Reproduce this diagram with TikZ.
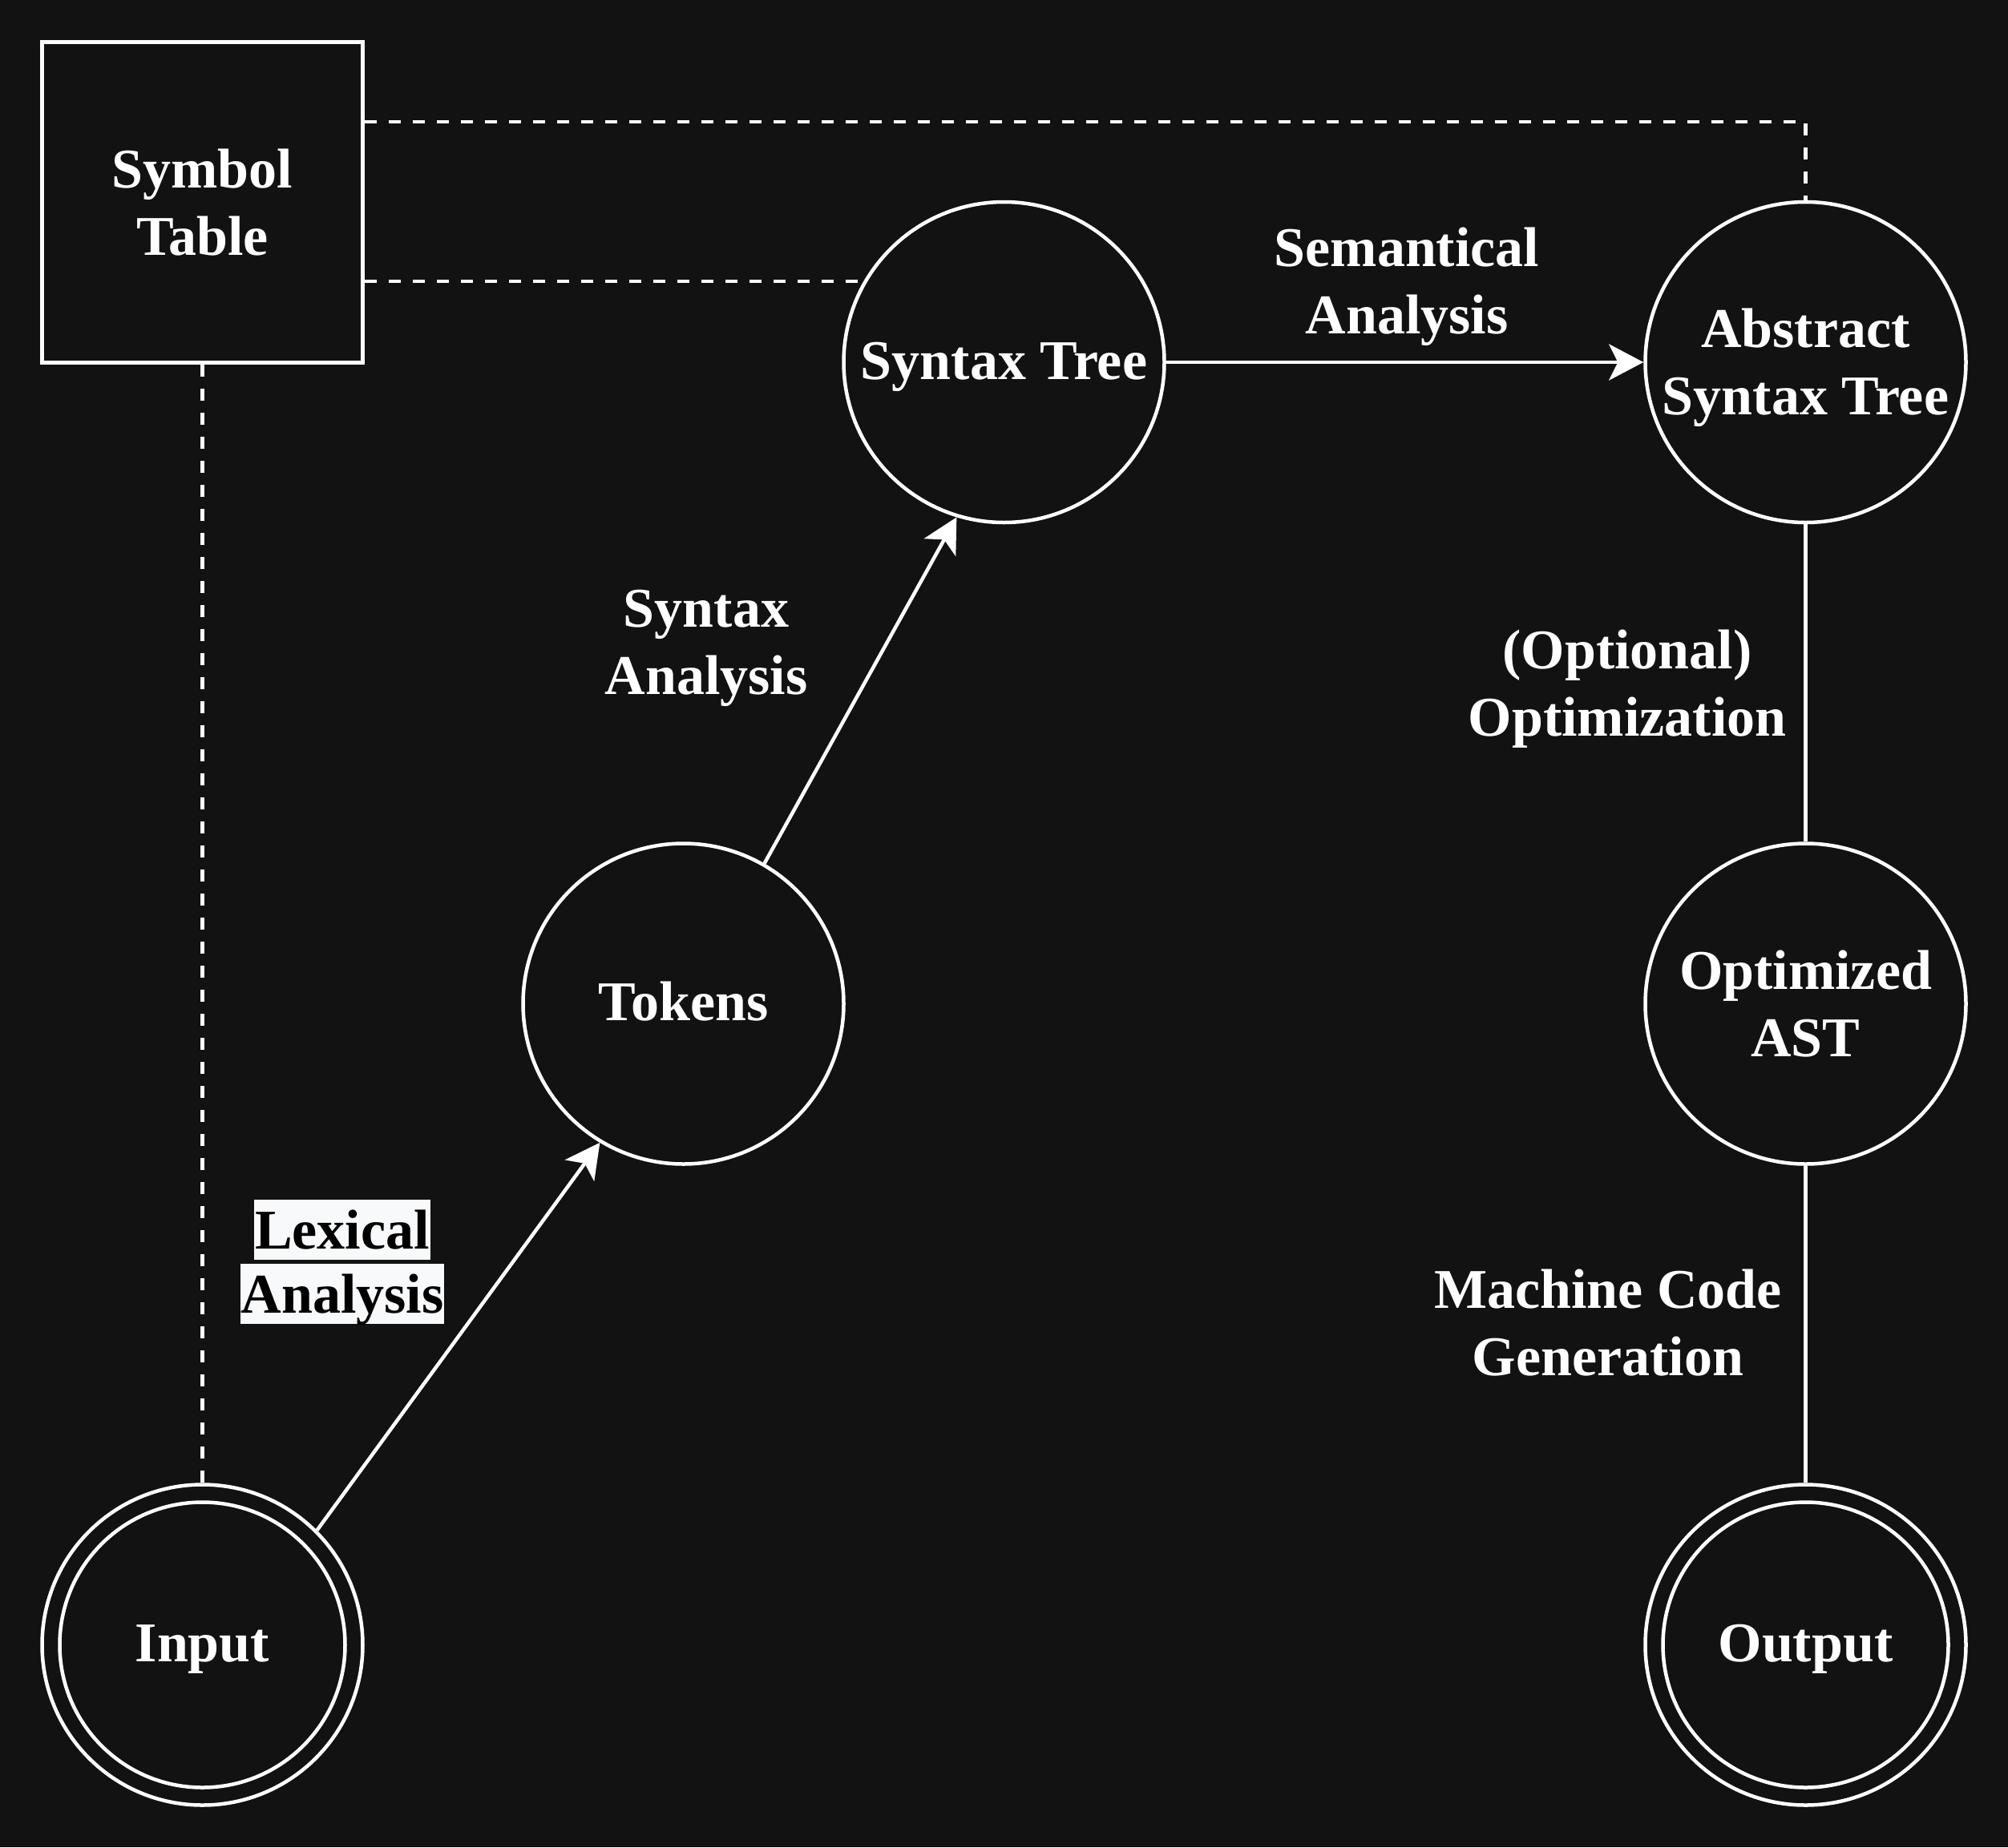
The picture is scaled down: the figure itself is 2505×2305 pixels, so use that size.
\documentclass[tikz,border=0pt]{standalone}
\usepackage{fontspec}
\setmainfont{Liberation Serif}
\usetikzlibrary{arrows.meta}
\definecolor{bg}{HTML}{121212}
\definecolor{lblbg}{HTML}{F8F9FA}
\begin{document}
\begin{tikzpicture}[x=1pt,y=-1pt,
  txt/.style={font=\fontsize{70pt}{84pt}\selectfont\bfseries, text=white, inner sep=0pt, align=center, text height=57pt, text depth=15pt},
  twolines/.style={text height=146pt},
  state/.style={txt, circle, draw=white, line width=4.5pt, minimum size=400pt},
  stbox/.style={txt, rectangle, draw=white, line width=4.5pt, minimum width=400pt, minimum height=400pt},
  lexbox/.style={txt, fill=lblbg, text=black, inner xsep=1pt, inner ysep=0pt, text height=61pt, text depth=14pt},
  conn/.style={draw=white, line width=4.5pt},
  arr/.style={conn, -{Stealth[length=43pt, width=45pt, inset=11pt]}},
  dashline/.style={conn, dash pattern=on 15pt off 15pt}
]
\fill[bg] (0,0) rectangle (2505,2305);
\useasboundingbox (0,0) rectangle (2505,2305);

% nodes
\node[stbox, twolines] (symtab) at (252.5,252.5) {Symbol\\Table};
\node[state] (st) at (1252.5,452) {Syntax Tree};
\node[state, twolines] (ast) at (2252.5,452) {Abstract\\Syntax Tree};
\node[state] (tokens) at (852.5,1252.5) {Tokens};
\node[state, twolines] (opt) at (2252.5,1252.5) {Optimized\\AST};
\node[state] (input) at (252.5,2052.5) {Input};
\node[state] (output) at (2252.5,2052.5) {Output};
\draw[conn] (input.center) circle[radius=178pt];
\draw[conn] (output.center) circle[radius=178pt];

% labels
\node[txt, twolines] (lsem) at (1755,351) {Semantical\\Analysis};
\node[txt, twolines] (lsyn) at (881,801) {Syntax\\Analysis};
\node[txt, twolines] (lopt) at (2030,853) {(Optional)\\Optimization};
\node[txt, twolines] (lmc) at (2006,1651) {Machine Code\\Generation};
\node[lexbox] (llex1) at (427,1534.5) {Lexical};
\node[lexbox] (llex2) at (427,1614.5) {Analysis};

% connectors
\draw[dashline] ([yshift=100.5pt]symtab.east) -| (ast.north);
\draw[dashline] (symtab.east |- st.150) -- (st.150);
\draw[dashline] (symtab.south) -- (input.north);
\draw[arr] (input.45) -- (tokens.239.5);
\draw[arr] (tokens.60) -- (st.253);
\draw[arr] (st.east) -- (ast.west);
\draw[conn] (ast.south) -- (opt.north);
\draw[conn] (opt.south) -- (output.north);
\end{tikzpicture}
\end{document}
